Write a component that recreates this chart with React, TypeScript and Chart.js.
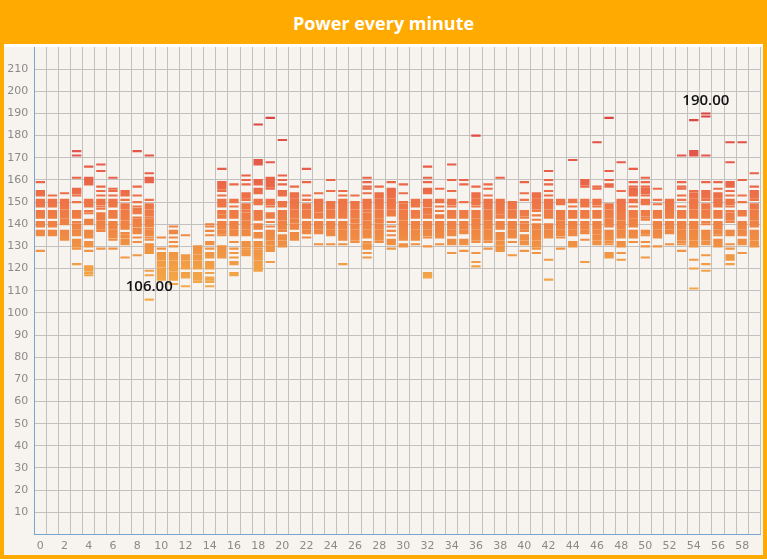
import React, { useEffect, useRef } from "react";
import { Chart, registerables } from "chart.js";

Chart.register(...registerables);

// Minute labels
const minuteLabels: string[] = Array.from({ length: 60 }, (_, i) => String(i));

// Power readings per minute: [v] = single reading, [lo, hi] = run of readings
const m00 = [[159],[153,155],[151],[148,150],[143,146],[139,141],[135,137],[128]];
const m01 = [[153],[151],[148,150],[143,146],[139,141],[135,137]];
const m02 = [[154],[151],[147,150],[143,146],[140,142],[133,137]];
const m03 = [[173],[171],[161],[154,156],[153],[150],[143,146],[141],[138,140],[135,137],[130,133],[129],[122]];
const m04 = [[166],[158,161],[148,151],[146],[145],[140,142],[134,137],[130,132],[128],[119,121],[118],[117]];
const m05 = [[167],[164],[157],[155],[153],[149,151],[148],[147],[142,145],[138,141],[137],[129]];
const m06 = [[161],[156],[155],[153],[148,151],[143,146],[138,141],[134,137],[133],[129]];
const m07 = [[153,155],[151],[147,149],[142,146],[138,141],[136],[134,135],[131,133],[125]];
const m08 = [[173],[157],[153],[150],[148],[145,147],[143],[139,142],[136,138],[134],[132],[126]];
const m09 = [[171],[163],[159,161],[151],[147,149],[144,146],[143],[139,142],[138],[135,137],[134],[133],[127,131],[119],[117],[106]];
const m10 = [[134],[129],[124,127],[121,123],[115,120]];
const m11 = [[139],[136,137],[134],[132],[130],[124,127],[119,123],[115,118],[113]];
const m12 = [[135],[124,126],[120,123],[116,118],[112]];
const m13 = [[128,130],[127],[124,126],[120,123],[115,118],[114]];
const m14 = [[140],[139],[137],[135],[131,132],[129],[125,127],[120,123],[118],[115,116],[114],[112]];
const m15 = [[165],[156,159],[155],[153],[148,151],[145,146],[143,144],[138,141],[136,137],[135],[128,130],[125,127]];
const m16 = [[158],[151],[150],[148],[143,146],[138,141],[135,137],[132],[129],[127],[125],[123],[122],[117,118]];
const m17 = [[162],[160],[158],[152,154],[151],[147,149],[146],[142,145],[138,141],[135,137],[130,132],[129],[126,128]];
const m18 = [[185],[167,169],[158,160],[154,156],[149,151],[142,146],[138,140],[134,136],[130,132],[129],[124,128],[119,123]];
const m19 = [[188],[168],[157,161],[156],[149,151],[148],[143,145],[141],[139],[133,137],[131,132],[128,130],[123]];
const m20 = [[178],[162],[160],[158],[153,155],[148,150],[142,146],[138,141],[137],[133,135],[130,132]];
const m21 = [[157],[152,154],[147,151],[143,146],[141,142],[138,140],[133,136]];
const m22 = [[165],[159],[153],[151],[147,149],[143,146],[138,141],[136,137],[134]];
const m23 = [[154],[146,151],[143,145],[138,141],[136,137],[131]];
const m24 = [[160],[155],[147,150],[143,146],[138,141],[135,137],[131]];
const m25 = [[155],[153],[151],[143,150],[138,141],[133,137],[131],[122]];
const m26 = [[153],[147,150],[143,146],[141,142],[138,140],[133,137],[132]];
const m27 = [[161],[159],[157],[156],[154],[151],[147,150],[146],[142,145],[138,141],[134,137],[132],[129,131],[127],[125]];
const m28 = [[157],[152,154],[147,151],[143,146],[141,142],[138,140],[133,137],[132]];
const m29 = [[159],[152,156],[147,151],[144,146],[141],[139],[137],[135],[131,133],[129]];
const m30 = [[158],[154],[150],[147,149],[142,146],[133,141],[130,131]];
const m31 = [[148,151],[143,146],[138,141],[133,137],[131]];
const m32 = [[166],[161],[159],[154,156],[148,151],[145,147],[143,144],[138,141],[135,137],[134],[130],[116,118]];
const m33 = [[156],[150,151],[148],[146],[143,144],[134,141],[131]];
const m34 = [[167],[160],[155],[149,151],[148],[143,146],[138,141],[135,137],[131,133],[127]];
const m35 = [[160],[158],[150],[143,146],[138,141],[136,137],[131,133],[128]];
const m36 = [[180],[157],[152,154],[149,151],[148],[143,146],[138,142],[133,137],[132],[127],[123],[121]];
const m37 = [[158],[156],[153],[151],[147,150],[142,146],[138,141],[133,137],[132],[129]];
const m38 = [[161],[151],[145,150],[143,144],[138,141],[133,136],[131,132],[128,130]];
const m39 = [[147,150],[143,146],[138,141],[134,137],[132],[126]];
const m40 = [[159],[154],[151],[144,146],[143],[141],[138,140],[137],[133,135],[131,132],[128]];
const m41 = [[152,154],[147,151],[146],[144],[142],[138,140],[133,137],[130,132],[129],[127]];
const m42 = [[164],[160],[158],[155],[153],[147,151],[143,146],[138,140],[134,137],[124],[115]];
const m43 = [[149,151],[142,146],[138,141],[135,137],[134],[129]];
const m44 = [[169],[150,151],[148],[143,146],[138,141],[135,137],[130,132]];
const m45 = [[158,160],[157],[148,151],[143,146],[138,141],[136,137],[133],[123]];
const m46 = [[177],[157],[156],[149,151],[148],[143,146],[138,141],[136,137],[133,135],[131,132]];
const m47 = [[188],[164],[160],[157,158],[147,149],[143,146],[139,142],[133,137],[132],[131],[125,127]];
const m48 = [[168],[155],[142,151],[138,141],[134,137],[130,132],[127],[124]];
const m49 = [[165],[159],[157],[153,156],[151],[150],[148],[143,146],[139,142],[134,137],[132]];
const m50 = [[161],[159],[157],[154,156],[153],[149,151],[144,146],[143],[142],[136,137],[135],[132],[130],[125]];
const m51 = [[156],[151],[149],[143,146],[138,141],[134,137],[130]];
const m52 = [[143,151],[138,141],[137],[136],[131]];
const m53 = [[171],[159],[157],[156],[153],[151],[148],[143,146],[138,141],[133,137],[132],[131],[128]];
const m54 = [[187],[171,173],[155],[152,154],[147,151],[143,146],[138,141],[133,137],[130,132],[124],[120],[111]];
const m55 = [[190],[188.6],[171],[159],[152,155],[151],[147,149],[143,146],[141],[140],[133,137],[131,132],[126],[122],[119]];
const m56 = [[159],[156],[152,154],[151],[148,150],[143,146],[138,141],[136,137],[135],[130,133]];
const m57 = [[177],[168],[157,159],[155],[153],[149,151],[148],[146],[142,145],[141],[135,137],[131],[129],[124,126],[122]];
const m58 = [[177],[160],[153],[150],[144,146],[138,141],[135,137],[131,133],[127]];
const m59 = [[163],[157],[152,155],[151],[147,149],[142,146],[139,141],[133,137],[130,132]];

const minutes: number[][][] = [
  m00, m01, m02, m03, m04, m05, m06, m07, m08, m09,
  m10, m11, m12, m13, m14, m15, m16, m17, m18, m19,
  m20, m21, m22, m23, m24, m25, m26, m27, m28, m29,
  m30, m31, m32, m33, m34, m35, m36, m37, m38, m39,
  m40, m41, m42, m43, m44, m45, m46, m47, m48, m49,
  m50, m51, m52, m53, m54, m55, m56, m57, m58, m59,
];

// Y axis ticks
const yMin = 0;
const yMax = 220;
const yStep = 10;

// colour ramp by value
const colorStops: [number, string][] = [
  [105, "#F5B04C"],
  [120, "#F2A045"],
  [130, "#F09243"],
  [140, "#EF8243"],
  [150, "#EE7446"],
  [160, "#EA6448"],
  [172, "#E4554A"],
  [190, "#D8433F"],
];

const HALF = 0.47; // half thickness of a reading dash (value units)

export default function App() {
  const ref = useRef<HTMLCanvasElement | null>(null);

  useEffect(() => {
    document.body.style.margin = "0";
    const canvas = ref.current;
    if (!canvas) return;

    const points: { x: string; y: [number, number] }[] = [];
    let minV = Infinity, minI = 0, maxV = -Infinity, maxI = 0;
    minutes.forEach((runs, i) => {
      runs.forEach((r) => {
        const lo = r[0];
        const hi = r.length > 1 ? r[1] : r[0];
        points.push({ x: minuteLabels[i], y: [lo - HALF, hi + HALF] });
        if (lo < minV) { minV = lo; minI = i; }
        if (hi > maxV) { maxV = hi; maxI = i; }
      });
    });

    let gradCache: CanvasGradient | null = null;
    let gradKey = "";
    const bg = (ctx: any) => {
      const chart = ctx.chart;
      const y = chart.scales.y;
      if (!chart.chartArea || !y) return colorStops[3][1];
      const p0 = y.getPixelForValue(colorStops[0][0]);
      const p1 = y.getPixelForValue(colorStops[colorStops.length - 1][0]);
      const key = p0 + ":" + p1;
      if (gradCache && gradKey === key) return gradCache;
      const g = chart.ctx.createLinearGradient(0, p0, 0, p1);
      const span = colorStops[colorStops.length - 1][0] - colorStops[0][0];
      colorStops.forEach(([v, c]) => g.addColorStop((v - colorStops[0][0]) / span, c));
      gradCache = g;
      gradKey = key;
      return g;
    };

    const labelPlugin = {
      id: "minmaxLabels",
      afterDatasetsDraw(chart: any) {
        const { ctx, scales } = chart;
        ctx.save();
        ctx.font = '600 15px "Open Sans"';
        ctx.fillStyle = "#111";
        ctx.textAlign = "center";
        ctx.textBaseline = "middle";
        const items: [number, number][] = [[minI, minV], [maxI, maxV]];
        items.forEach(([i, v]) => {
          const x = scales.x.getPixelForValue(i);
          const y = scales.y.getPixelForValue(v) - 12.5;
          ctx.fillText(v.toFixed(2), x, y);
        });
        ctx.restore();
      },
    };

    const chart = new Chart(canvas, {
      type: "bar",
      data: {
        labels: minuteLabels,
        datasets: [
          {
            data: points as any,
            backgroundColor: bg as any,
            borderWidth: 0,
            borderSkipped: false,
            barPercentage: 0.77,
            categoryPercentage: 1,
          },
        ],
      },
      options: {
        animation: false,
        responsive: true,
        maintainAspectRatio: false,
        layout: { padding: { left: 0, right: 2.7, top: 0, bottom: 0 } },
        plugins: {
          legend: { display: false },
          tooltip: { enabled: false },
          title: { display: false },
        },
        scales: {
          x: {
            type: "category",
            offset: true,
            grid: { offset: true, color: "#C3C1BF", lineWidth: 1, drawTicks: false },
            border: { color: "#7AA6D2", width: 1 },
            ticks: {
              autoSkip: false,
              maxRotation: 0,
              padding: 5,
              color: "#8A8A8A",
              font: { family: "DejaVu Sans", size: 11 },
              callback: (_v: any, i: number) => (i % 2 === 0 ? minuteLabels[i] : ""),
            },
            afterFit: (s: any) => { s.height = 20.55; s.paddingLeft = 0; s.paddingRight = 0; },
          },
          y: {
            min: yMin,
            max: yMax,
            grid: { color: "#C3C1BF", lineWidth: 1, drawTicks: false },
            border: { color: "#7AA6D2", width: 1 },
            ticks: {
              stepSize: yStep,
              padding: 6,
              color: "#8A8A8A",
              font: { family: "DejaVu Sans", size: 11 },
              callback: (v: any) => (v === yMax || v === yMin ? null : String(v)),
            },
            afterFit: (s: any) => { s.width = 30.3; s.paddingTop = 0; s.paddingBottom = 0; },
          },
        },
      },
      plugins: [labelPlugin],
    });
    return () => chart.destroy();
  }, []);

  return (
    <div style={{ position: "absolute", left: 0, top: 0, width: 767, height: 559, background: "#FFAA00" }}>
      <div
        style={{
          position: "absolute", left: 0, top: 0, width: 767, height: 44,
          display: "flex", alignItems: "center", justifyContent: "center",
          color: "#fff", font: '700 18px "Open Sans"', paddingTop: 2, boxSizing: "border-box",
        }}
      >
        Power every minute
      </div>
      <div style={{ position: "absolute", left: 4, top: 44, width: 759, height: 511, background: "#F7F3EF", borderTop: "3px solid #ffffff", boxSizing: "border-box" }} />
      <div style={{ position: "absolute", left: 4, top: 47, width: 759, height: 508 }}>
        <canvas ref={ref} />
      </div>
    </div>
  );
}
